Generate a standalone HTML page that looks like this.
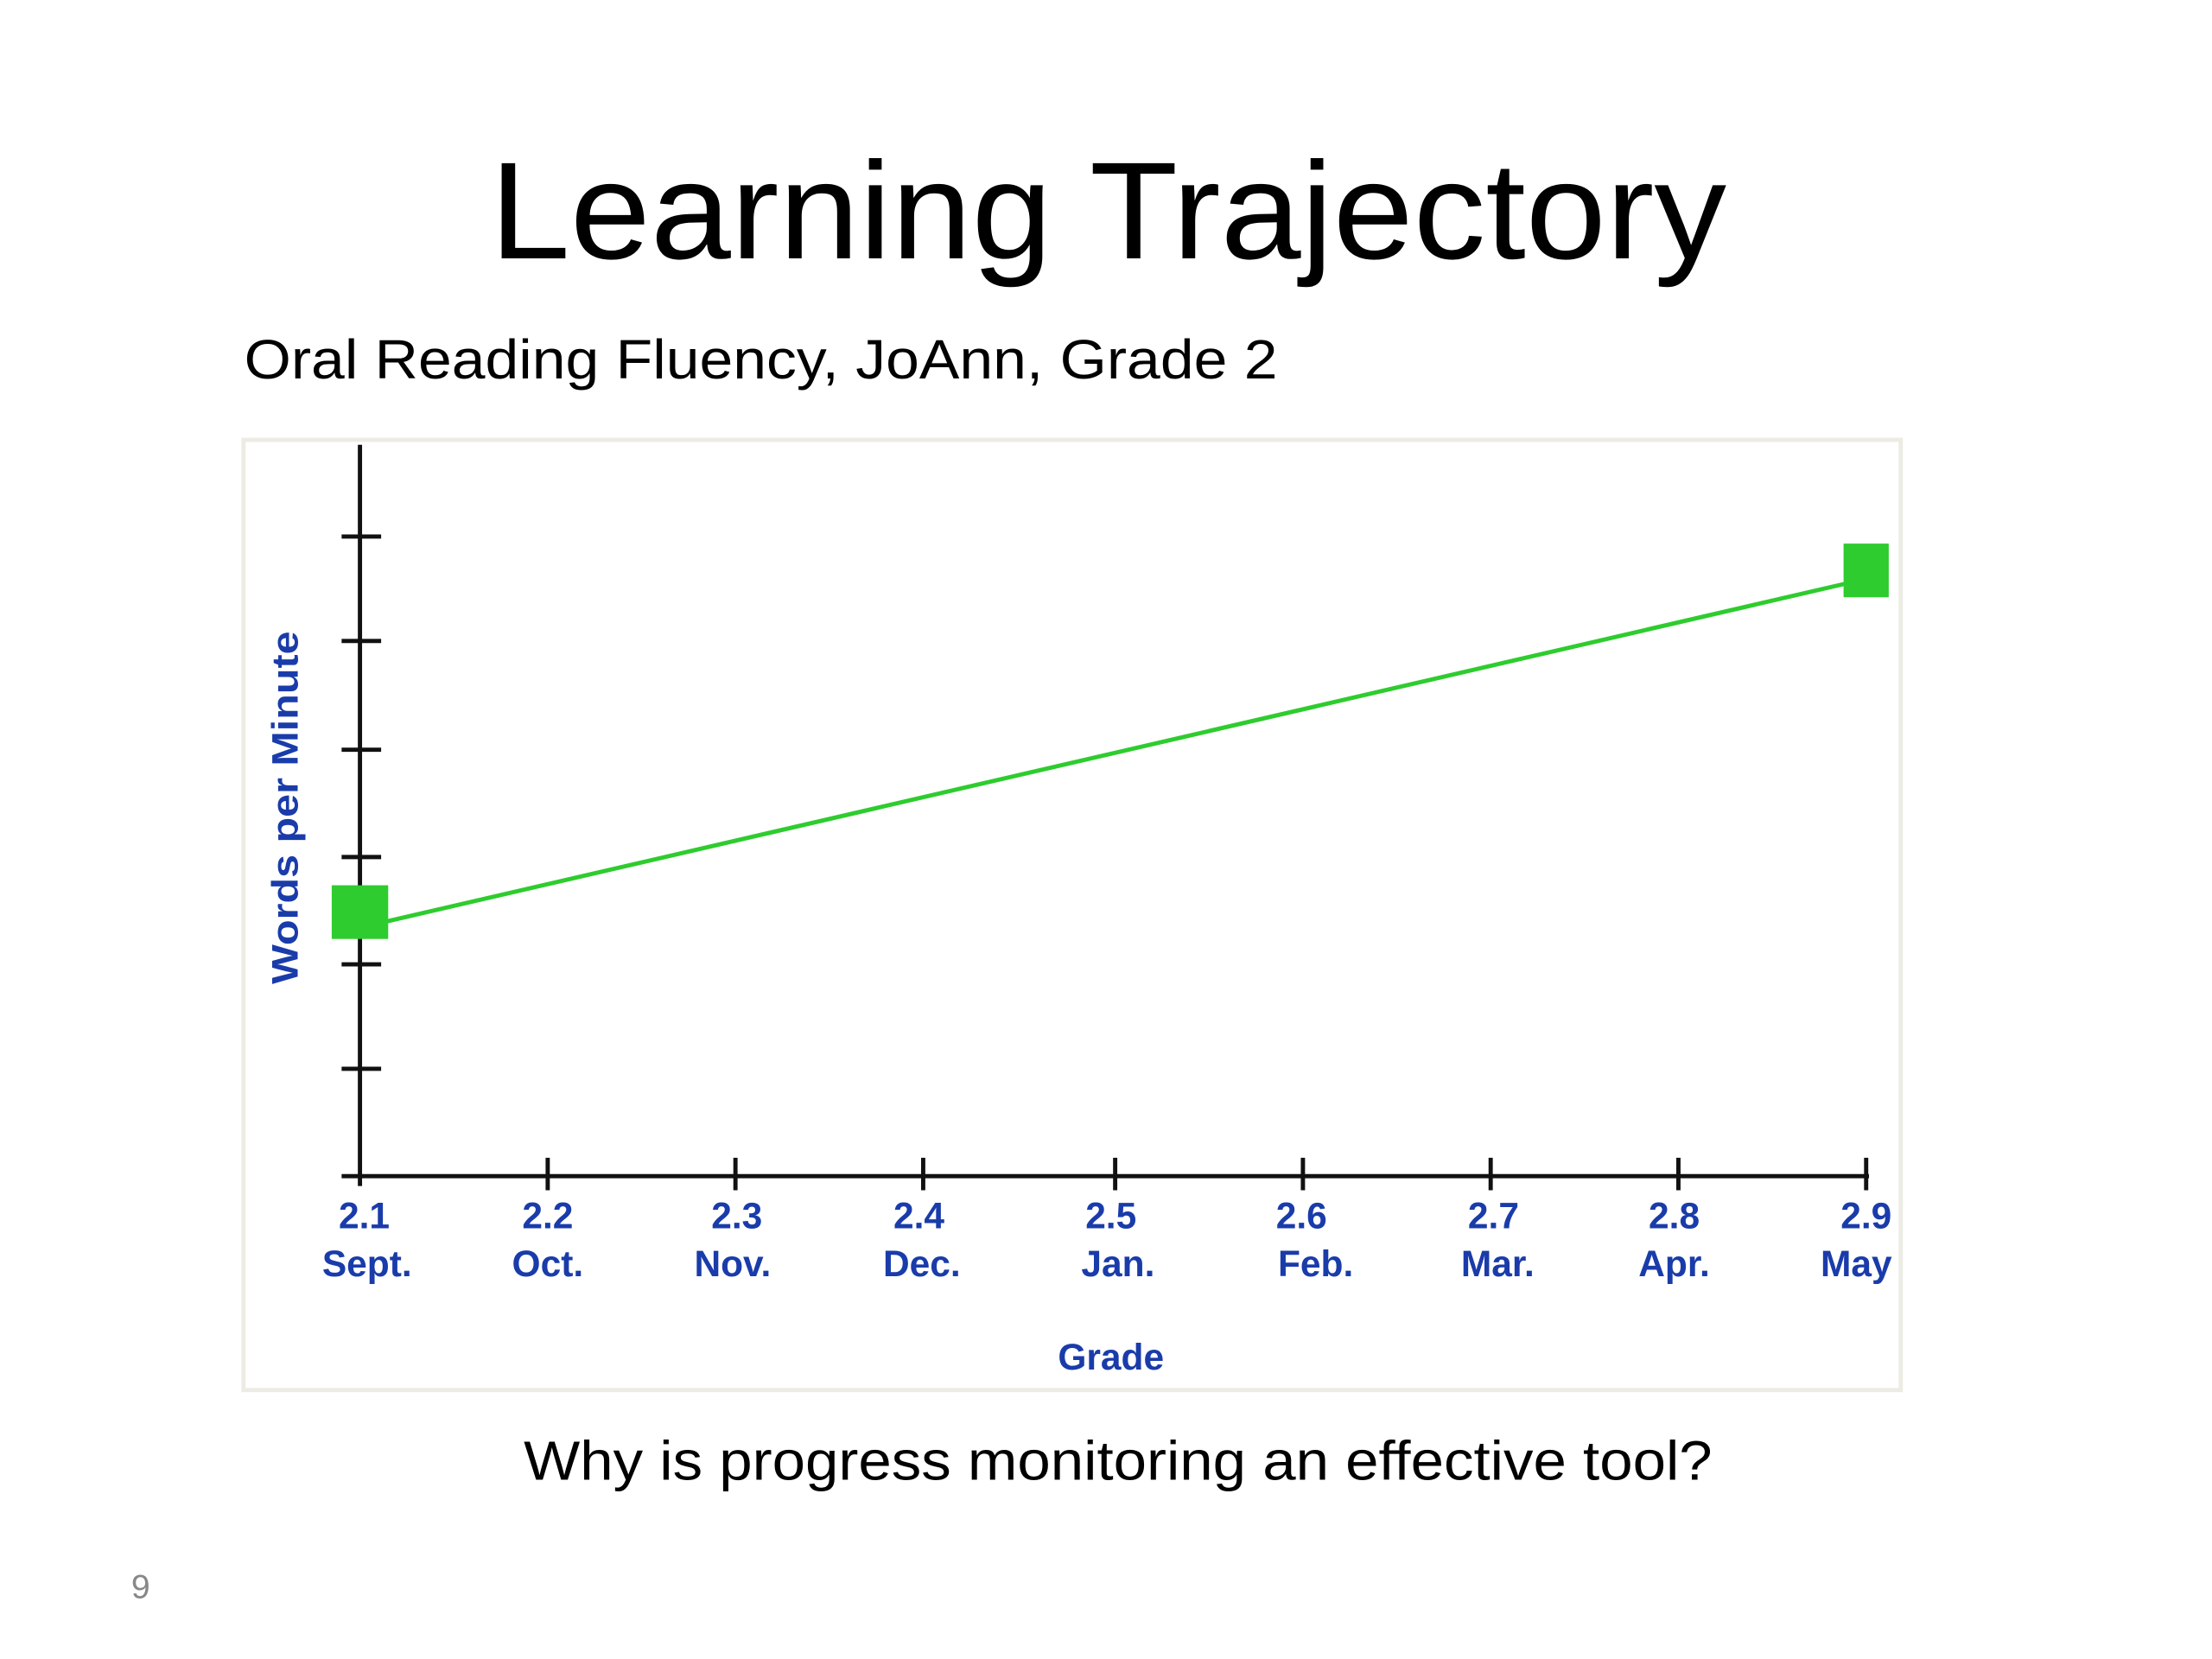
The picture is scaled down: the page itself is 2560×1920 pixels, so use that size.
<!DOCTYPE html>
<html><head><meta charset="utf-8"><style>
html,body{margin:0;padding:0;background:#fff;}
svg{display:block;}
</style></head><body>
<svg width="2560" height="1920" viewBox="0 0 1567 1175" xmlns="http://www.w3.org/2000/svg" preserveAspectRatio="none">
<rect width="1600" height="1200" fill="#fff"/>
<text x="785" y="183" text-anchor="middle" font-family="Liberation Sans, sans-serif" font-size="98" fill="#000" textLength="876" lengthAdjust="spacingAndGlyphs">Learning Trajectory</text>
<text x="173" y="268" font-family="Liberation Sans, sans-serif" font-size="39" fill="#000" textLength="732" lengthAdjust="spacingAndGlyphs">Oral Reading Fluency, JoAnn, Grade 2</text>
<rect x="172.5" y="311.5" width="1174" height="673" fill="#fff" stroke="#ecece4" stroke-width="3"/>
<g stroke="#111" stroke-width="3">
<line x1="255" y1="315" x2="255" y2="840"/>
<line x1="242" y1="833" x2="1324" y2="833"/>
<line x1="242" y1="380" x2="270" y2="380"/>
<line x1="242" y1="454" x2="270" y2="454"/>
<line x1="242" y1="531" x2="270" y2="531"/>
<line x1="242" y1="607" x2="270" y2="607"/>
<line x1="242" y1="683" x2="270" y2="683"/>
<line x1="242" y1="757" x2="270" y2="757"/>
<line x1="388" y1="820" x2="388" y2="843"/>
<line x1="521" y1="820" x2="521" y2="843"/>
<line x1="654" y1="820" x2="654" y2="843"/>
<line x1="790" y1="820" x2="790" y2="843"/>
<line x1="923" y1="820" x2="923" y2="843"/>
<line x1="1056" y1="820" x2="1056" y2="843"/>
<line x1="1189" y1="820" x2="1189" y2="843"/>
<line x1="1322" y1="820" x2="1322" y2="843"/>
</g>
<line x1="255" y1="657" x2="1322" y2="410" stroke="#2ecc2e" stroke-width="3"/>
<rect x="235" y="627" width="40" height="38" fill="#2ecc2e"/>
<rect x="1306" y="385" width="32" height="38" fill="#2ecc2e"/>
<g font-family="Liberation Sans, sans-serif" font-weight="bold" font-size="26" fill="#1a3caa" text-anchor="middle">
<text x="258" y="870">2.1</text><text x="260" y="904">Sept.</text>
<text x="388" y="870">2.2</text><text x="388" y="904">Oct.</text>
<text x="522" y="870">2.3</text><text x="519" y="904">Nov.</text>
<text x="651" y="870">2.4</text><text x="653" y="904">Dec.</text>
<text x="787" y="870">2.5</text><text x="792" y="904">Jan.</text>
<text x="922" y="870">2.6</text><text x="932" y="904">Feb.</text>
<text x="1058" y="870">2.7</text><text x="1061" y="904">Mar.</text>
<text x="1186" y="870">2.8</text><text x="1186" y="904">Apr.</text>
<text x="1322" y="870">2.9</text><text x="1315" y="904">May</text>
<text x="787" y="970">Grade</text>
<text transform="translate(211,572) rotate(-90)" textLength="250" lengthAdjust="spacingAndGlyphs">Words per Minute</text>
</g>
<text x="792" y="1048" text-anchor="middle" font-family="Liberation Sans, sans-serif" font-size="39" fill="#000" textLength="842" lengthAdjust="spacingAndGlyphs">Why is progress monitoring an effective tool?</text>
<text x="93" y="1132" font-family="Liberation Sans, sans-serif" font-size="24" fill="#888">9</text>
</svg>
</body></html>
